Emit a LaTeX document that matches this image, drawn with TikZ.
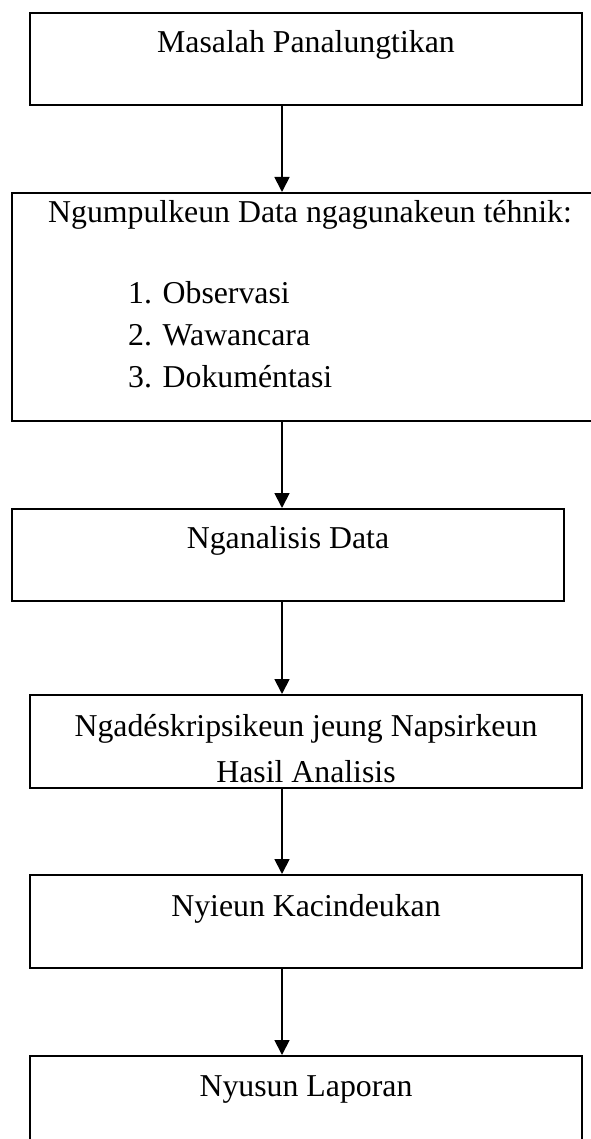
\documentclass[tikz,border=0pt]{standalone}
\usepackage{fontspec}
\setmainfont{Liberation Serif}
\usetikzlibrary{arrows.meta,positioning}
\tikzset{
  kotak/.style={draw, line width=1.8pt, rectangle, anchor=north, align=center,
    inner xsep=0pt, inner ysep=18pt, text height=22pt},
  panah/.style={-{Triangle[width=15pt,length=15pt]}, line width=1.8pt},
}
\begin{document}
\begin{tikzpicture}[x=1pt,y=-1pt,font=\fontsize{31.8}{42}\selectfont]
  \useasboundingbox (0,0) rectangle (590,1139);
  \coordinate (sumbu) at (282,0);
  % kotak-kotak alur
  \node[kotak, minimum width=552pt, text depth=34pt] (masalah) at (306,12)
  {Masalah Panalungtikan};
  \node[kotak, minimum width=596pt, inner ysep=8pt, text depth=190pt] (data) at (310,192)
  {Ngumpulkeun Data ngagunakeun téhnik:};
  \node[anchor=base west, align=left, inner sep=0pt] (teknik) at (128,387)
  {1. Observasi\\2. Wawancara\\3. Dokuméntasi};
  \node[kotak, minimum width=552pt, text depth=34pt] (analisis) at (288,508)
  {Nganalisis Data};
  \node[kotak, minimum width=552pt, inner ysep=5pt, text height=83pt, text depth=0pt,
    font=\fontsize{31.8}{46}\selectfont] (napsirkeun) at (306,694)
  {Ngadéskripsikeun jeung Napsirkeun\\Hasil Analisis};
  \node[kotak, minimum width=552pt, inner ysep=20pt, text depth=31pt] (kacindeukan) at (306,874)
  {Nyieun Kacindeukan};
  \node[kotak, minimum width=552pt, inner ysep=19pt, text depth=60pt] (laporan) at (306,1055)
  {Nyusun Laporan};
  % panah
  \draw[panah] (masalah.south -| sumbu) -- (data.north -| sumbu);
  \draw[panah] (data.south -| sumbu) -- (analisis.north -| sumbu);
  \draw[panah] (analisis.south -| sumbu) -- (napsirkeun.north -| sumbu);
  \draw[panah] (napsirkeun.south -| sumbu) -- (kacindeukan.north -| sumbu);
  \draw[panah] (kacindeukan.south -| sumbu) -- (laporan.north -| sumbu);
\end{tikzpicture}
\end{document}
